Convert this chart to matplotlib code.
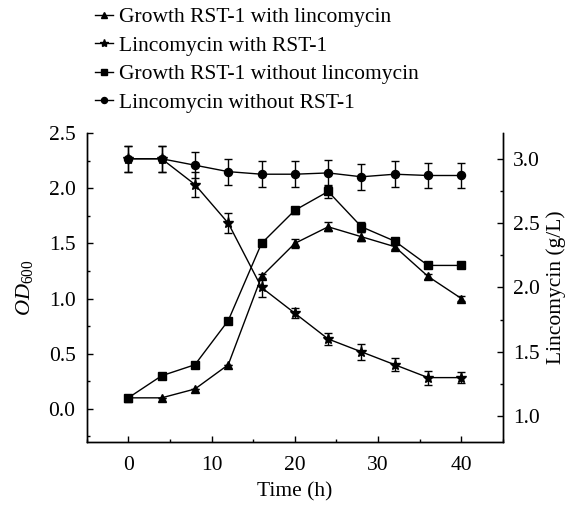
import matplotlib
matplotlib.use("Agg")
import matplotlib.pyplot as plt
from matplotlib.lines import Line2D
from matplotlib.ticker import MultipleLocator

plt.rcParams['font.family'] = ['Liberation Serif', 'DejaVu Serif']
plt.rcParams['mathtext.fontset'] = 'custom'
plt.rcParams['mathtext.rm'] = 'Liberation Serif'
plt.rcParams['mathtext.it'] = 'Liberation Serif:italic'

# time points (h)
time = [0, 4, 8, 12, 16, 20, 24, 28, 32, 36, 40]

# OD600, left axis
growth_with = [0.1, 0.1, 0.18, 0.4, 1.2, 1.5, 1.65, 1.56, 1.47, 1.2, 1.0]
growth_with_err = [0.0, 0.0, 0.0, 0.0, 0.02, 0.04, 0.04, 0.04, 0.02, 0.02, 0.02]
growth_without = [0.1, 0.3, 0.4, 0.8, 1.5, 1.8, 1.97, 1.65, 1.52, 1.3, 1.3]
growth_without_err = [0.0, 0.0, 0.0, 0.0, 0.0, 0.03, 0.055, 0.045, 0.03, 0.02, 0.02]

# lincomycin (g/L), right axis
linco_with = [3.0, 3.0, 2.8, 2.5, 2.0, 1.8, 1.6, 1.5, 1.4, 1.3, 1.3]
linco_with_err = [0.1, 0.1, 0.1, 0.08, 0.075, 0.04, 0.05, 0.06, 0.05, 0.055, 0.04]
linco_without = [3.0, 3.0, 2.95, 2.9, 2.88, 2.88, 2.89, 2.86, 2.88, 2.87, 2.87]
linco_without_err = [0.1, 0.1, 0.1, 0.1, 0.1, 0.1, 0.1, 0.1, 0.1, 0.1, 0.1]

labels = ['Growth RST-1 with lincomycin',
          'Lincomycin with RST-1',
          'Growth RST-1 without lincomycin',
          'Lincomycin without RST-1']
markers = ['^', '*', 's', 'o']
sizes = [6, 8, 5.2, 5.8]

fig = plt.figure(figsize=(5.76, 5.05), dpi=100)
ax = fig.add_axes([0.1505, 0.1248, 0.7228, 0.6118])
ax2 = ax.twinx()

kw = dict(color='black', lw=1.0, capsize=2.6, elinewidth=1.0, capthick=1.0)
ax.errorbar(time, growth_with, yerr=growth_with_err, marker=markers[0], ms=sizes[0], **kw)
ax.errorbar(time, growth_without, yerr=growth_without_err, marker=markers[2], ms=sizes[2], **kw)
ax2.errorbar(time, linco_with, yerr=linco_with_err, marker=markers[1], ms=sizes[1], **kw)
ax2.errorbar(time, linco_without, yerr=linco_without_err, marker=markers[3], ms=sizes[3], **kw)

ax.set_xlim(-5, 45)
ax.set_ylim(-0.3, 2.5)
ax2.set_ylim(0.8, 3.2)

ax.xaxis.set_major_locator(MultipleLocator(10))
ax.xaxis.set_minor_locator(MultipleLocator(5))
ax.yaxis.set_major_locator(MultipleLocator(0.5))
ax.yaxis.set_minor_locator(MultipleLocator(0.25))
ax2.yaxis.set_major_locator(MultipleLocator(0.5))
ax2.yaxis.set_minor_locator(MultipleLocator(0.25))
ax.yaxis.set_major_formatter(plt.FormatStrFormatter('%.1f'))
ax2.yaxis.set_major_formatter(plt.FormatStrFormatter('%.1f'))

fs = 15.5
for a in (ax, ax2):
    a.spines['top'].set_visible(False)
    for s in a.spines.values():
        s.set_linewidth(1.0)
ax.tick_params(axis='both', which='major', direction='in', length=4.5, width=1.0, labelsize=fs)
ax.tick_params(axis='both', which='minor', direction='in', length=2.5, width=1.0)
ax.tick_params(axis='x', pad=10)
ax.tick_params(axis='y', pad=8)
ax2.tick_params(axis='y', which='major', direction='in', length=4.5, width=1.0, labelsize=fs, pad=7)
ax2.tick_params(axis='y', which='minor', direction='in', length=2.5, width=1.0)

ax.set_xlabel('Time (h)', fontsize=fs, labelpad=5)
ax.set_ylabel(r'$\mathit{OD}_{600}$', fontsize=16, labelpad=10)
ax2.set_ylabel('Lincomycin (g/L)', fontsize=fs, labelpad=5)

handles = [Line2D([], [], color='black', lw=1.0, marker=m, ms=s * 0.75)
           for m, s in zip(markers, sizes)]
fig.legend(handles, labels, loc='upper left', bbox_to_anchor=(0.165, 0.986),
           frameon=False, fontsize=fs, handlelength=0.84, handletextpad=0.28,
           labelspacing=0.39, borderpad=0, borderaxespad=0)

fig.savefig('out.png', dpi=100)
